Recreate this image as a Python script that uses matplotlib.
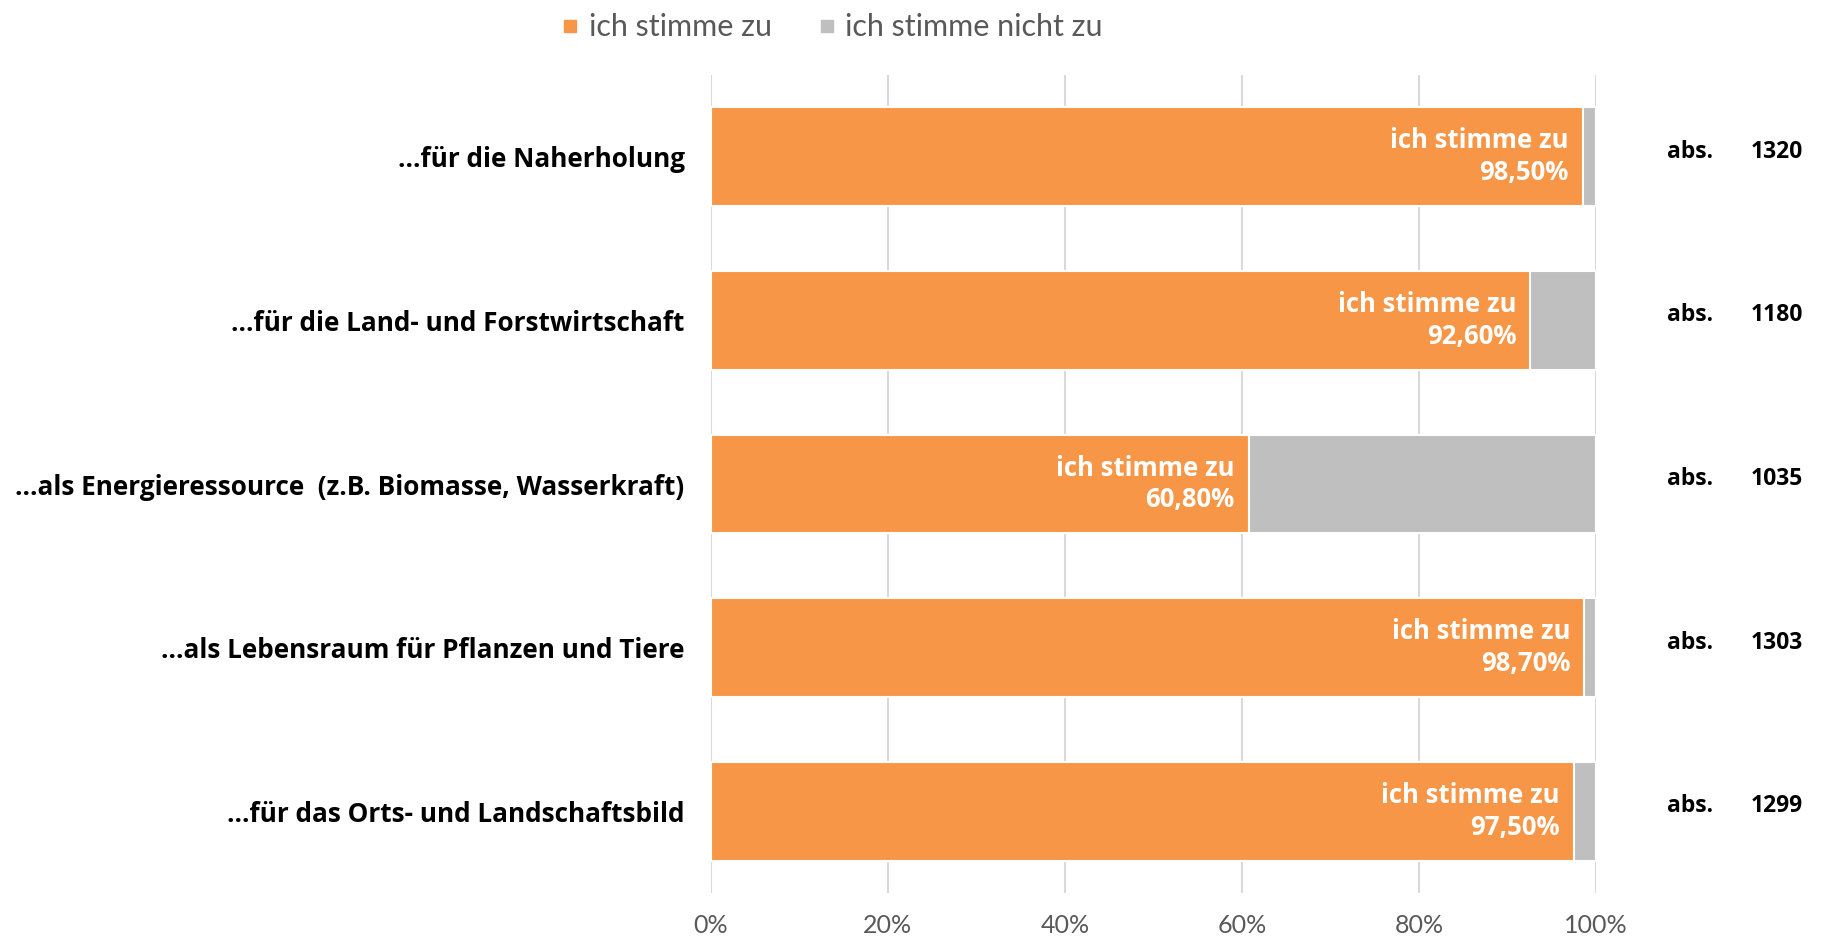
import matplotlib
matplotlib.use("Agg")
import matplotlib.pyplot as plt
from matplotlib.lines import Line2D

# chart data
categories = [
    "...für die Naherholung",
    "...für die Land- und Forstwirtschaft",
    "...als Energieressource  (z.B. Biomasse, Wasserkraft)",
    "...als Lebensraum für Pflanzen und Tiere",
    "...für das Orts- und Landschaftsbild",
]
agree = [98.5, 92.6, 60.8, 98.7, 97.5]
disagree = [1.5, 7.4, 39.2, 1.3, 2.5]
agree_labels = ["98,50%", "92,60%", "60,80%", "98,70%", "97,50%"]
abs_counts = ["1320", "1180", "1035", "1303", "1299"]
series_names = ["ich stimme zu", "ich stimme nicht zu"]
x_ticks = [0, 20, 40, 60, 80, 100]
x_tick_labels = ["0%", "20%", "40%", "60%", "80%", "100%"]

ORANGE = "#F79646"
GREY = "#BFBFBF"
GRID = "#D9D9D9"
TEXT_GREY = "#595959"

fig = plt.figure(figsize=(18.21, 9.41), dpi=100)
ax = fig.add_axes([0.3904, 0.051, 0.486, 0.8693])

ypos = list(range(len(categories)))
ax.barh(ypos, agree, height=0.605, color=ORANGE, edgecolor="white", linewidth=1.5, zorder=2)
ax.barh(ypos, disagree, left=agree, height=0.605, color=GREY, edgecolor="white", linewidth=1.5, zorder=2)

ax.set_xlim(0, 100)
ax.set_ylim(len(categories) - 0.5, -0.5)

# gridlines
ax.set_xticks(x_ticks)
ax.set_xticklabels(x_tick_labels, fontsize=18, color=TEXT_GREY, family="Lato")
ax.xaxis.grid(True, color=GRID, linewidth=1.5, zorder=0)
ax.set_axisbelow(True)
ax.tick_params(axis="x", length=0, pad=15)

ax.set_yticks(ypos)
ax.set_yticklabels(categories, fontsize=18.8, fontweight="bold", family="Open Sans", color="black")
ax.tick_params(axis="y", length=0, pad=19)

for s in ax.spines.values():
    s.set_visible(False)

# labels inside the orange bars
for y, a, lab in zip(ypos, agree, agree_labels):
    ax.text(a - 1.6, y, "ich stimme zu\n" + lab, ha="right", va="center", multialignment="right",
            color="white", fontsize=18.5, fontweight="bold", family="Open Sans", linespacing=1.22, zorder=3)

# absolute counts on the right
for y, n in zip(ypos, abs_counts):
    ax.text(110.6, y - 0.03, "abs.", ha="center", va="center", fontsize=16.5, fontweight="bold",
            family="Open Sans", color="black", clip_on=False)
    ax.text(123.4, y - 0.03, n, ha="right", va="center", fontsize=16.5, fontweight="bold",
            family="Open Sans", color="black", clip_on=False)

handles = [
    Line2D([], [], marker="s", linestyle="none", markersize=9, color=ORANGE),
    Line2D([], [], marker="s", linestyle="none", markersize=9, color=GREY),
]
leg = fig.legend(handles, series_names, loc="upper center", bbox_to_anchor=(0.456, 1.015), ncol=2,
                 frameon=False, handletextpad=0.2, columnspacing=1.4, handlelength=0.8,
                 prop={"family": "Lato", "size": 22})
for t in leg.get_texts():
    t.set_color(TEXT_GREY)

fig.savefig("out.png", dpi=100, facecolor="white")
